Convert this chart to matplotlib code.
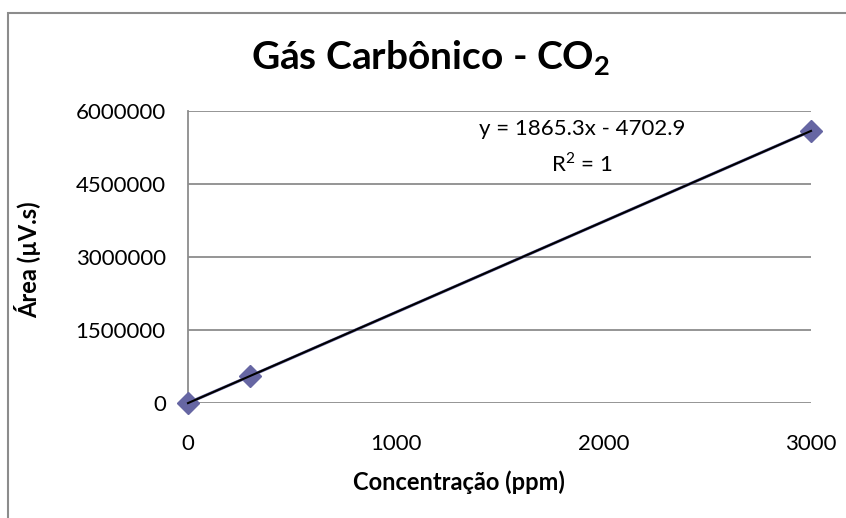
import numpy as np
import matplotlib.pyplot as plt
from matplotlib.patches import Rectangle

plt.rcParams["font.family"] = ["Lato", "DejaVu Sans"]
plt.rcParams["mathtext.fontset"] = "custom"
plt.rcParams["mathtext.rm"] = "Lato"
plt.rcParams["mathtext.bf"] = "Lato:bold"

conc = [0, 300, 3000]
area = [0, 555000, 5591000]
y_ticks = [0, 1500000, 3000000, 4500000, 6000000]
x_ticks = [0, 1000, 2000, 3000]

W, H = 846, 518
fig = plt.figure(figsize=(W / 100, H / 100), dpi=100)
ax = fig.add_axes([188 / W, 1 - 403 / H, (811 - 188) / W, (403 - 111) / H])

# outer chart frame (runs off the right/bottom edges)
fig.patches.append(Rectangle((8 / W, -0.1), 1.2, 1 - 13 / H + 0.1,
                             transform=fig.transFigure, fill=False,
                             edgecolor="#8c8c8c", linewidth=1.5))

marker_c = "#6666a3"
ax.plot(conc, area, color=marker_c, lw=2.2, marker="D", ms=11,
        markeredgecolor=marker_c, zorder=3, clip_on=False)

m, b = np.polyfit(conc, area, 1)
xx = np.array([0, 3000])
ax.plot(xx, m * xx + b, color="black", lw=1.5, zorder=4, clip_on=False)

ax.set_xlim(0, 3000)
ax.set_ylim(0, 6000000)
ax.set_xticks(x_ticks)
ax.set_yticks(y_ticks)
ax.set_xticklabels([str(v) for v in x_ticks])
ax.set_yticklabels([str(v) for v in y_ticks])
ax.tick_params(length=0, labelsize=16)
ax.tick_params(axis="y", pad=16)
ax.tick_params(axis="x", pad=22)
ax.grid(axis="y", color="#8c8c8c", lw=1.3)
ax.set_axisbelow(True)
for s in ["top", "right", "bottom"]:
    ax.spines[s].set_visible(False)
ax.spines["left"].set_color("#8c8c8c")
ax.spines["left"].set_linewidth(1.3)

fig.text(431 / W, 1 - 70 / H, r"Gás Carbônico - CO$_\mathbf{2}$", ha="center",
         va="baseline", fontsize=28, fontweight="bold")
fig.text(459 / W, 1 - 490 / H, "Concentração (ppm)", ha="center", va="baseline",
         fontsize=17, fontweight="bold")
fig.text(28 / W, 1 - 260 / H, "Área (µV.s)", ha="center", va="center",
         rotation=90, fontsize=17, fontweight="bold")

fig.text(582 / W, 1 - 135 / H, "y = %.1fx - %.1f" % (1865.3, 4702.9), ha="center",
         va="baseline", fontsize=16)
fig.text(582 / W, 1 - 172 / H, r"R$^2$ = 1", ha="center", va="baseline",
         fontsize=16)

fig.savefig("out.png", dpi=100)
